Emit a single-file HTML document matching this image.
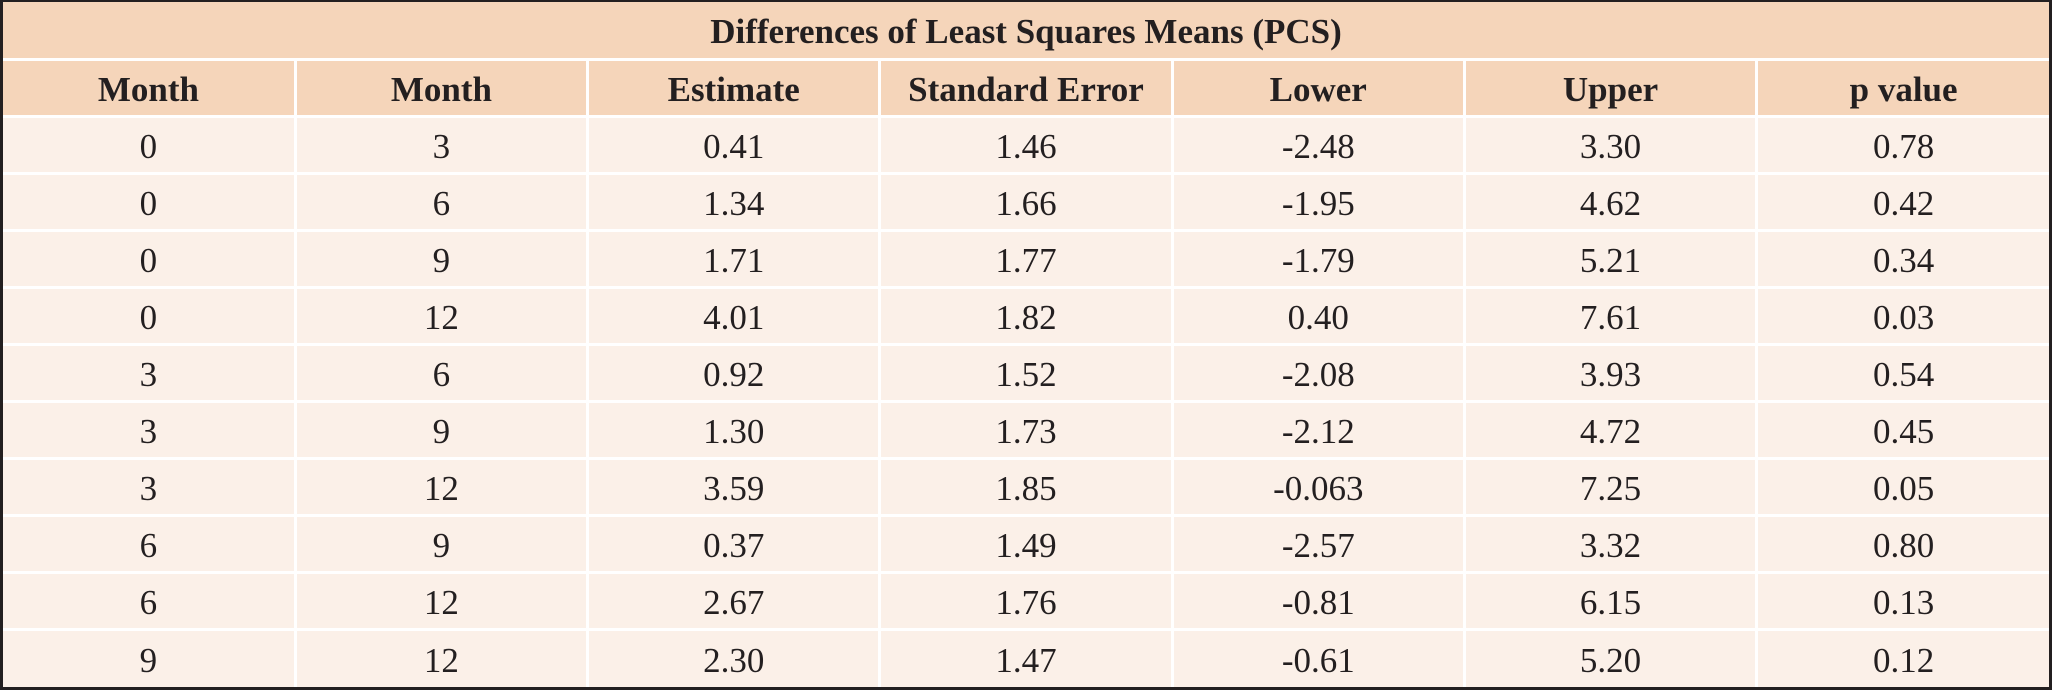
<!DOCTYPE html>
<html><head><style>
html,body{margin:0;padding:0;background:#fff;}
.wrap{position:absolute;left:0;top:0;width:2052px;height:690px;box-sizing:border-box;border:3px solid #231f20;border-top-width:2px;background:#fbf0e8;}
table{border-collapse:collapse;width:100%;height:100%;table-layout:fixed;font-family:"Liberation Serif",serif;color:#231f20;}
td,th{border:3px solid #fff;text-align:center;padding:3px 0 0 0;font-size:35px;height:57px;box-sizing:border-box;line-height:1;}
tr:first-child td, tr:first-child th{border-top:none;}
td:first-child,th:first-child{border-left:none;}
td:last-child,th:last-child{border-right:none;}
tr:last-child td{border-bottom:none;}
th{background:#f5d5ba;font-weight:bold;}
th.title{font-size:35px;}
</style></head><body>
<div class="wrap"><table>
<tr><th class="title" colspan="7">Differences of Least Squares Means (PCS)</th></tr>
<tr><th>Month</th><th>Month</th><th>Estimate</th><th>Standard Error</th><th>Lower</th><th>Upper</th><th>p value</th></tr>
<tr><td>0</td><td>3</td><td>0.41</td><td>1.46</td><td>-2.48</td><td>3.30</td><td>0.78</td></tr>
<tr><td>0</td><td>6</td><td>1.34</td><td>1.66</td><td>-1.95</td><td>4.62</td><td>0.42</td></tr>
<tr><td>0</td><td>9</td><td>1.71</td><td>1.77</td><td>-1.79</td><td>5.21</td><td>0.34</td></tr>
<tr><td>0</td><td>12</td><td>4.01</td><td>1.82</td><td>0.40</td><td>7.61</td><td>0.03</td></tr>
<tr><td>3</td><td>6</td><td>0.92</td><td>1.52</td><td>-2.08</td><td>3.93</td><td>0.54</td></tr>
<tr><td>3</td><td>9</td><td>1.30</td><td>1.73</td><td>-2.12</td><td>4.72</td><td>0.45</td></tr>
<tr><td>3</td><td>12</td><td>3.59</td><td>1.85</td><td>-0.063</td><td>7.25</td><td>0.05</td></tr>
<tr><td>6</td><td>9</td><td>0.37</td><td>1.49</td><td>-2.57</td><td>3.32</td><td>0.80</td></tr>
<tr><td>6</td><td>12</td><td>2.67</td><td>1.76</td><td>-0.81</td><td>6.15</td><td>0.13</td></tr>
<tr><td>9</td><td>12</td><td>2.30</td><td>1.47</td><td>-0.61</td><td>5.20</td><td>0.12</td></tr>
</table></div>
</body></html>
